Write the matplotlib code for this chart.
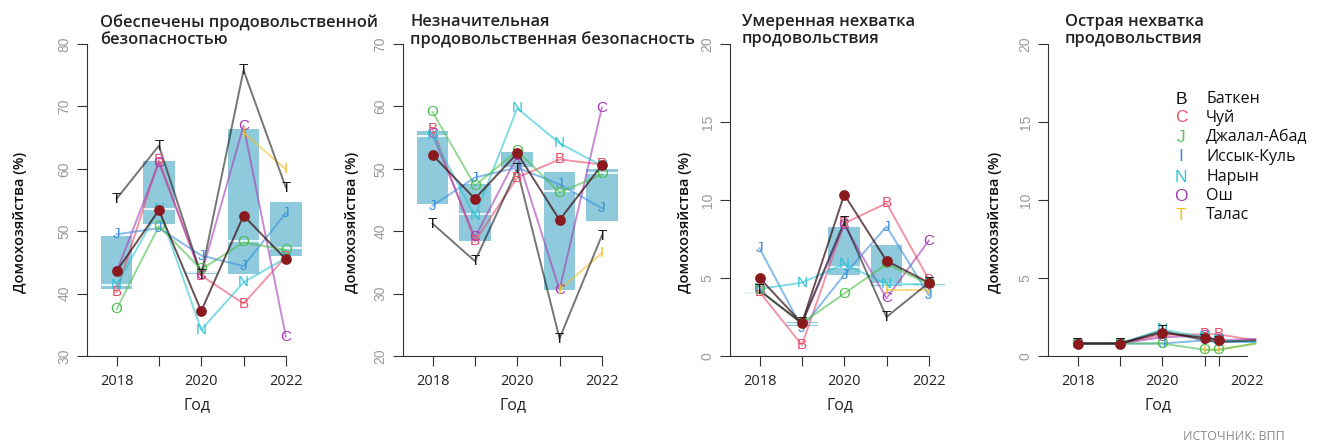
import numpy as np
import matplotlib
matplotlib.use("Agg")
import matplotlib.pyplot as plt

plt.rcParams['font.family'] = ['Open Sans', 'Noto Sans', 'DejaVu Sans']

# ==========================
# 1. Данные
# ==========================
years = [2018, 2019, 2020, 2021, 2022]
years4 = [2018, 2019, 2020, 2021, 2021.33, 2022.2]

codes = ["B", "C", "J", "I", "N", "O", "T"]
colors = {"B": "#E8506A", "C": "#A63CB4", "J": "#3A8EDB", "I": "#F2C230",
          "N": "#2EC4D4", "O": "#4DBF4D", "T": "#1a1a1a"}

legend_codes = ["B", "C", "J", "I", "N", "O", "T"]
legend_colors = ["#111111", "#E8506A", "#5BC45B", "#3A8EDB", "#2EC4D4", "#A040B0", "#F5C518"]
regions = ["Баткен", "Чуй", "Джалал-Абад", "Иссык-Куль", "Нарын", "Ош", "Талас"]

titles = ["Обеспечены продовольственной\nбезопасностью",
          "Незначительная\nпродовольственная безопасность",
          "Умеренная нехватка\nпродовольствия",
          "Острая нехватка\nпродовольствия"]

nan = np.nan

# Обеспечены
p1 = {"B": [40.3, 61.4, 42.9, 38.4, 45.9],
      "C": [43.5, 61.0, 43.0, 66.9, 33.1],
      "J": [49.5, 50.5, 46.1, 44.4, 52.9],
      "I": [nan, nan, nan, 65.8, 59.9],
      "N": [41.4, 53.5, 34.2, 41.8, 45.7],
      "O": [37.5, 50.8, 43.9, 48.2, 47.0],
      "T": [55.2, 63.7, 43.0, 75.8, 57.0]}
mean1 = [43.6, 53.4, 37.2, 52.5, 45.5]
box1_lo = [40.7, 51.2, 43.2, 43.2, 46.1]
box1_hi = [49.3, 61.3, 43.6, 66.3, 54.7]
box1_mid = [41.3, 53.5, 43.4, 48.5, 47.3]

# Незначительная
p2 = {"B": [56.4, 38.4, 48.6, 51.5, 50.7],
      "C": [55.5, 39.0, 52.0, 30.6, 59.8],
      "J": [44.1, 48.6, 50.2, 47.5, 43.7],
      "I": [nan, nan, nan, 30.6, 36.5],
      "N": [55.3, 42.4, 59.7, 54.1, 50.5],
      "O": [59.1, 47.3, 52.9, 46.2, 49.1],
      "T": [41.2, 35.2, 49.9, 22.8, 39.3]}
mean2 = [52.2, 45.2, 52.5, 41.8, 50.6]
box2_lo = [44.4, 38.5, 50.1, 30.5, 41.6]
box2_hi = [56.1, 47.5, 52.7, 49.5, 49.9]
box2_mid = [55.3, 42.7, 50.2, 46.4, 49.4]

# Умеренная нехватка
p3 = {"B": [4.1, 0.7, 8.5, 9.8, 4.9],
      "C": [4.2, 2.1, 8.4, 3.7, 7.4],
      "J": [6.9, 1.8, 5.2, 8.3, 3.9],
      "I": [nan, nan, nan, 4.2, 4.2],
      "N": [4.3, 4.7, 5.9, 4.6, 4.6],
      "O": [4.2, 2.1, 4.0, 5.9, 4.6],
      "T": [4.2, 2.1, 8.6, 2.5, 4.7]}
mean3 = [5.0, 2.1, 10.35, 6.1, 4.7]
box3_lo = [4.0, 1.95, 5.2, 4.5, 4.4]
box3_hi = [4.1, 2.15, 8.3, 7.1, 4.6]
box3_mid = [4.05, 2.05, 5.7, 4.6, 4.5]

# Острая нехватка
p4 = {"B": [0.8, 0.8, 1.35, 1.4, 1.4, 1.0],
      "C": [0.8, 0.8, 1.2, 1.3, 1.0, 1.1],
      "J": [0.8, 0.8, 0.8, 1.0, 0.9, 0.9],
      "I": [nan, nan, nan, 0.4, 0.4, 0.8],
      "N": [0.8, 0.8, 1.7, 1.2, 1.0, 0.9],
      "O": [0.8, 0.8, 0.8, 0.4, 0.4, 0.8],
      "T": [0.8, 0.8, 1.6, 1.0, 0.9, 1.0]}
mean4 = [0.8, 0.8, 1.5, 1.15, 1.05]

# ==========================
# 2. Рисунок
# ==========================
fig = plt.figure(figsize=(13.29, 4.45), dpi=100)

lefts = [87, 403, 730, 1048]
ylims = [(30, 80), (20, 70), (0, 20), (0, 20)]
ysteps = [10, 10, 5, 5]
title_x = [100, 410, 742, 1065]
ylab_x = [20, 352, 685, 995]


def setup(ax, i):
    lo, hi = ylims[i]
    ax.set_xlim(2017.3, 2022.5)
    ax.set_ylim(lo, hi)
    for s in ["top", "right"]:
        ax.spines[s].set_visible(False)
    ax.spines["left"].set_color("#333333")
    ax.spines["bottom"].set_color("#333333")
    ax.spines["bottom"].set_bounds(2017.3, 2022)
    ax.set_yticks(np.arange(lo, hi + 1, ysteps[i]))
    ax.tick_params(axis="y", length=7, color="#333333", labelcolor="#9a9a9a",
                   labelsize=10, pad=4)
    for t in ax.get_yticklabels():
        t.set_rotation(90)
        t.set_va("center")
        t.set_family(["Liberation Sans", "DejaVu Sans"])
    ax.tick_params(axis="x", length=7, color="#333333", labelsize=10.5,
                   labelcolor="#222222", pad=6)
    ax.set_xlabel("Год", fontsize=11.5, labelpad=6, color="#222222")
    fig.text(ylab_x[i] / 1329, 0.5, "Домохозяйства (%)", rotation=90,
             ha="center", va="center", fontsize=10.5, fontweight="semibold",
             color="#111111")
    fig.text(title_x[i] / 1329, 1 - 14 / 445, titles[i], ha="left", va="top",
             fontsize=11.8, fontweight="semibold", color="#222222",
             linespacing=1.12)


def draw_panel(ax, xs, series, mean, blo=None, bhi=None, bmid=None, nlab=5):
    if blo is not None:
        for x, a, b, m in zip(xs, blo, bhi, bmid):
            ax.add_patch(plt.Rectangle((x - 0.375, a), 0.75, max(b - a, 0.12),
                                       color="#8ECADB", lw=0, zorder=1))
            ax.plot([x - 0.375, x + 0.375], [m, m], color="white", lw=1.5,
                    alpha=0.8, zorder=1.5)
    for c in codes:
        v = np.array(series[c], dtype=float)
        ax.plot(xs, v, color=colors[c], lw=1.4, alpha=0.6, zorder=2)
        for x, y in list(zip(xs, v))[:nlab]:
            if not np.isnan(y):
                ax.text(x, y, c, color=colors[c], ha="center", va="center",
                        fontsize=11, zorder=3, clip_on=False,
                        family=["Liberation Sans", "DejaVu Sans"])
    ax.plot(xs[:len(mean)], mean, color="#3a1518", lw=1.4, alpha=0.75, zorder=4)
    ax.scatter(xs[:len(mean)], mean, s=60, color="#8B1A1F", zorder=5, lw=0)


axes = []
for i in range(4):
    ax = fig.add_axes([lefts[i] / 1329, 0.2, 220 / 1329, 0.7011])
    axes.append(ax)

draw_panel(axes[0], years, p1, mean1, box1_lo, box1_hi, box1_mid)
draw_panel(axes[1], years, p2, mean2, box2_lo, box2_hi, box2_mid)
draw_panel(axes[2], years, p3, mean3, box3_lo, box3_hi, box3_mid)
draw_panel(axes[3], years4, p4, mean4, nlab=5)

for i, ax in enumerate(axes[:3]):
    ax.set_xticks(years)
    ax.set_xticklabels(["2018", "", "2020", "", "2022"])
    setup(ax, i)

ax4 = axes[3]
ax4.set_xticks(years4[:5] + [2022])
ax4.set_xticklabels(["2018", "", "2020", "", "", "2022"])
setup(ax4, 3)
ax4.xaxis.get_major_ticks()[-1].tick1line.set_visible(False)

# ==========================
# 3. Легенда
# ==========================
leg_y = [99, 118, 137, 157, 177, 196, 215]
for code, col, name, y in zip(legend_codes, legend_colors, regions, leg_y):
    fig.text(1181 / 1329, 1 - y / 445, code, color=col, ha="center",
             va="center", fontsize=12.5, family=["Liberation Sans", "DejaVu Sans"])
    fig.text(1206 / 1329, 1 - y / 445, name, color="#111111", ha="left",
             va="center", fontsize=11.5)

fig.text(1285 / 1329, 1 - 436 / 445, "ИСТОЧНИК: ВПП", ha="right", va="center",
         fontsize=9, color="#8a8a8a")

fig.savefig("out.png", dpi=100)
